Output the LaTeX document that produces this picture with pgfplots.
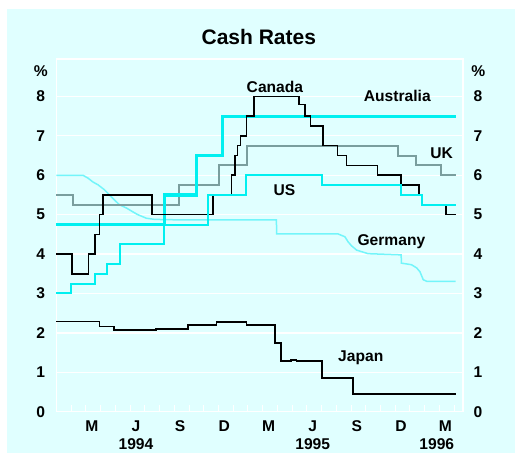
\documentclass[border=0pt]{standalone}
\usepackage{fontspec}
\setmainfont{Liberation Sans}
\usepackage{pgfplots}
\pgfplotsset{compat=1.18}
\definecolor{bgc}{RGB}{224,255,255}
\definecolor{cyanl}{RGB}{0,240,240}
\definecolor{ger}{RGB}{115,245,250}
\definecolor{ukc}{RGB}{122,158,158}
\newcommand{\lf}{\bfseries\fontsize{15.6}{18}\selectfont}
\begin{document}
\begin{tikzpicture}[x=1pt,y=1pt]
\fill[white] (-56.5,-41) rectangle (458.5,411.7);
\path[use as bounding box] (-56.5,-41) rectangle (458.5,411.7);
\fill[bgc] (-49.5,-41) rectangle (458.5,402.7);
\begin{axis}[
  at={(0,0)}, anchor=south west,
  scale only axis, width=406.5pt, height=352.7pt,
  xmin=0, xmax=27.6, ymin=0, ymax=8.95,
  clip=false,
  axis line style={white, line width=1.3pt},
  ymajorgrids, grid style={white, line width=1.3pt},
  ytick={0,1,2,3,4,5,6,7,8},
  yticklabel style={font=\lf, anchor=center, xshift=-15.8pt},
  /pgf/number format/assume math mode=true,
  xtick={2.5,5.5,8.5,11.5,14.5,17.5,20.5,23.5,26.5},
  xticklabels={M,{J\\[-0.4pt]1994},S,D,M,{J\\[-0.4pt]1995},S,D,{M\\[-0.4pt]\hspace*{-17pt}1996}},
  xticklabel style={font=\lf, align=center, anchor=north, inner sep=0pt, yshift=-8.8pt, xshift=-1.5pt},
  minor xtick={1,2,...,27},
  major tick length=0pt,
  minor tick length=7pt,
  tick align=inside,
  tick pos=left,
  minor tick style={white, line width=1pt},
]
% Germany
\addplot[ger, line width=1.5pt, sharp plot] coordinates {
(0,6.0)(1.79,6.0)(2.13,5.93)(2.47,5.83)(2.81,5.76)(3.26,5.63)(3.6,5.5)(3.94,5.37)(4.28,5.25)(4.74,5.17)(5.19,5.07)(5.52,5.0)(6.1,4.91)(6.66,4.88)(8.0,4.87)(14.93,4.87)(14.95,4.51)(19.12,4.51)(19.58,4.44)(19.8,4.31)(20.03,4.21)(20.38,4.1)(21.16,4.01)(23.4,3.98)(23.42,3.77)(24.1,3.73)(24.45,3.65)(24.68,3.55)(24.9,3.35)(25.13,3.31)(27.1,3.31)};
% UK
\addplot[ukc, line width=2pt, const plot] coordinates {
(0,5.5)(1.13,5.25)(8.29,5.75)(11.05,6.25)(12.96,6.75)(23.2,6.5)(24.4,6.25)(26.1,6.0)(27.1,6.0)};
% Australia
\addplot[cyanl, line width=3.2pt, const plot] coordinates {
(0,4.75)(7.34,5.5)(9.5,6.5)(11.26,7.5)(27.1,7.5)};
% Japan
\addplot[black, line width=1.8pt, const plot] coordinates {
(0,2.29)(2.92,2.16)(3.9,2.08)(6.78,2.10)(8.93,2.21)(10.86,2.27)(12.9,2.21)(14.82,1.75)(15.27,1.29)(15.9,1.31)(16.3,1.29)(18.0,0.85)(20.15,0.44)(27.1,0.44)};
% Canada
\addplot[black, line width=1.6pt, const plot] coordinates {
(0,4.0)(1.07,3.5)(2.18,4.0)(2.63,4.5)(2.92,5.0)(3.17,5.5)(6.48,5.0)(10.63,5.5)(11.87,6.0)(12.1,6.5)(12.3,6.75)(12.5,7.0)(12.9,7.5)(13.41,8.0)(16.47,7.8)(16.86,7.5)(17.25,7.25)(18.1,6.75)(19.08,6.5)(19.7,6.25)(21.8,6.0)(23.39,5.75)(24.63,5.5)(24.79,5.25)(26.44,5.0)(27.1,5.0)};
% US
\addplot[cyanl, line width=2pt, const plot] coordinates {
(0,3.0)(1.0,3.25)(2.63,3.5)(3.42,3.75)(4.33,4.25)(7.3,4.75)(10.31,5.5)(12.9,6.0)(18.06,5.75)(23.4,5.5)(24.79,5.25)(27.1,5.25)};
% series labels
\node[font=\lf, anchor=base] at (axis cs:14.83,8.09) {Canada};
\node[font=\lf, anchor=base] at (axis cs:23.14,7.87) {Australia};
\node[font=\lf, anchor=base] at (axis cs:26.15,6.42) {UK};
\node[font=\lf, anchor=base] at (axis cs:15.48,5.49) {US};
\node[font=\lf, anchor=base] at (axis cs:22.74,4.22) {Germany};
\node[font=\lf, anchor=base] at (axis cs:20.66,1.285) {Japan};
\end{axis}
\begin{axis}[
  at={(0,0)}, anchor=south west,
  scale only axis, width=406.5pt, height=352.7pt,
  xmin=0, xmax=27.6, ymin=0, ymax=8.95,
  axis x line=none, axis y line*=right,
  y axis line style={draw=none},
  ytick={0,1,2,3,4,5,6,7,8},
  major tick length=0pt,
  /pgf/number format/assume math mode=true,
  yticklabel style={font=\lf, anchor=center, xshift=15pt},
]
\end{axis}
\node[font=\bfseries\fontsize{21}{25}\selectfont, anchor=base] at (202.3,366.7) {Cash Rates};
\node[font=\lf, anchor=base] at (-15.8,335) {\%};
\node[font=\lf, anchor=base] at (421.8,335) {\%};
\end{tikzpicture}
\end{document}
